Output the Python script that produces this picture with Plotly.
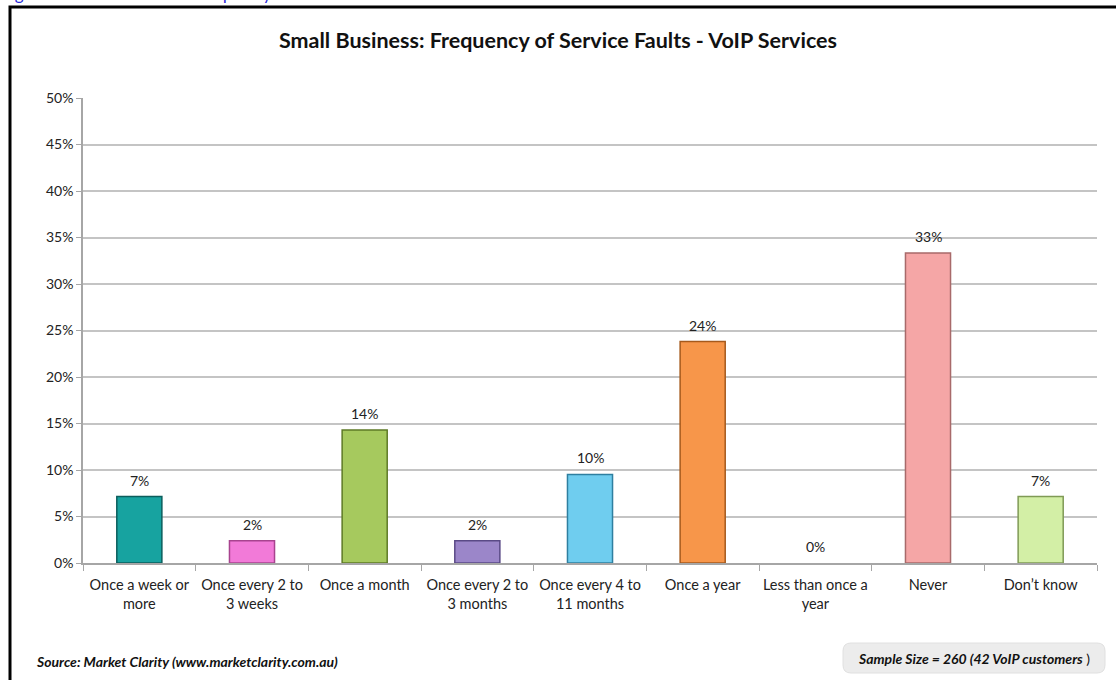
import plotly.graph_objects as go

categories = ["Once a week or<br>more", "Once every 2 to<br>3 weeks", "Once a month",
              "Once every 2 to<br>3 months", "Once every 4 to<br>11 months", "Once a year",
              "Less than once a<br>year", "Never", "Don\u2019t know"]
values = [7.14, 2.38, 14.29, 2.38, 9.52, 23.81, 0.0, 33.33, 7.14]
labels = ["7%", "2%", "14%", "2%", "10%", "24%", "0%", "33%", "7%"]
colors = ["#17a3a0", "#f27ad8", "#a6c95e", "#9b86c9", "#6fcdef", "#f7964a", "#cccccc", "#f5a6a6", "#d3efa6"]
edges = ["#0b5e5c", "#a8438f", "#5e7a26", "#5a4a86", "#2e7fa0", "#a65a1c", "#888888", "#a86a6a", "#7f9a55"]
yticks = [0, 5, 10, 15, 20, 25, 30, 35, 40, 45, 50]

W, H = 1116, 680
L, R, T, B = 83, 19, 98, 117
pw, ph = W - L - R, H - T - B

def px_x(x):
    return (x - L) / pw

def px_y(y):
    return (H - B - y) / ph

FONT = "Lato, 'Open Sans', sans-serif"

fig = go.Figure()
fig.add_trace(go.Bar(
    x=categories, y=values,
    marker=dict(color=colors,
                line=dict(color=edges, width=[1.5 if v > 0 else 0 for v in values])),
    width=0.4, hoverinfo="skip"))

# rounded box for sample size
x0, x1, y0, y1 = px_x(843), px_x(1105), px_y(643), px_y(673)
rx, ry = 8 / pw, 8 / ph
path = (f"M {x0+rx},{y0} L {x1-rx},{y0} Q {x1},{y0} {x1},{y0-ry} "
        f"L {x1},{y1+ry} Q {x1},{y1} {x1-rx},{y1} L {x0+rx},{y1} Q {x0},{y1} {x0},{y1+ry} "
        f"L {x0},{y0-ry} Q {x0},{y0} {x0+rx},{y0} Z")

value_labels = [
    dict(x=c, y=v, text=t, xref="x", yref="y", xanchor="center", yanchor="bottom",
         yshift=6, showarrow=False, font=dict(size=14, color="#222222", family=FONT))
    for c, v, t in zip(categories, values, labels)
]

fig.update_layout(
    width=W, height=H, margin=dict(l=L, r=R, t=T, b=B),
    paper_bgcolor="white", plot_bgcolor="white", showlegend=False,
    font=dict(family=FONT, color="#222222"),
    title=dict(text="<b>Small Business: Frequency of Service Faults - VoIP Services</b>",
               x=0.5, xanchor="center", y=1 - 40 / H, yanchor="middle",
               font=dict(size=21.5, color="#111111", family=FONT)),
    xaxis=dict(type="category", showgrid=False, showline=True, linecolor="#a6a6a6", linewidth=1.5,
               ticks="outside", tickson="boundaries", ticklen=6, tickcolor="#a6a6a6",
               ticklabelstandoff=8,
               tickangle=0, tickfont=dict(size=14.5, color="#222222", family=FONT)),
    yaxis=dict(range=[0, 50], tickvals=yticks, ticktext=[f"{v}%" for v in yticks],
               showgrid=True, gridcolor="#c4c4c4", gridwidth=1.5,
               showline=True, linecolor="#a6a6a6", linewidth=1.5,
               ticks="outside", ticklen=5, tickcolor="#a6a6a6",
               tickfont=dict(size=14, color="#222222", family=FONT), zeroline=False),
    shapes=[
        dict(type="path", xref="paper", yref="paper", path=path,
             fillcolor="#ececec", line=dict(color="#e0e0e0", width=1), layer="below"),
        dict(type="rect", xref="paper", yref="paper",
             x0=px_x(10), x1=px_x(1130), y0=px_y(7), y1=px_y(700),
             line=dict(color="black", width=3), fillcolor="rgba(0,0,0,0)"),
    ],
    annotations=value_labels + [
        dict(text="<b><i>Source: Market Clarity (www.marketclarity.com.au)</i></b>",
             xref="paper", yref="paper", x=px_x(34), y=px_y(661), xanchor="left", yanchor="middle",
             showarrow=False, font=dict(size=14, color="#111111", family=FONT)),
        dict(text="<b><i>Sample Size = 260 (42 VoIP customers</i></b> )",
             xref="paper", yref="paper", x=(x0 + x1) / 2, y=px_y(658), xanchor="center", yanchor="middle",
             showarrow=False, font=dict(size=14, color="#111111", family=FONT)),
        dict(text="Figure 53: Small Business Frequency of Service Faults - VoIP Services",
             xref="paper", yref="paper", x=px_x(-1), y=px_y(6), xanchor="left", yanchor="bottom",
             showarrow=False, font=dict(size=17, color="#2626d9", family=FONT)),
    ],
)

fig.write_html("out.html", config={"displayModeBar": False},
               post_script="document.body.style.margin='0';")
